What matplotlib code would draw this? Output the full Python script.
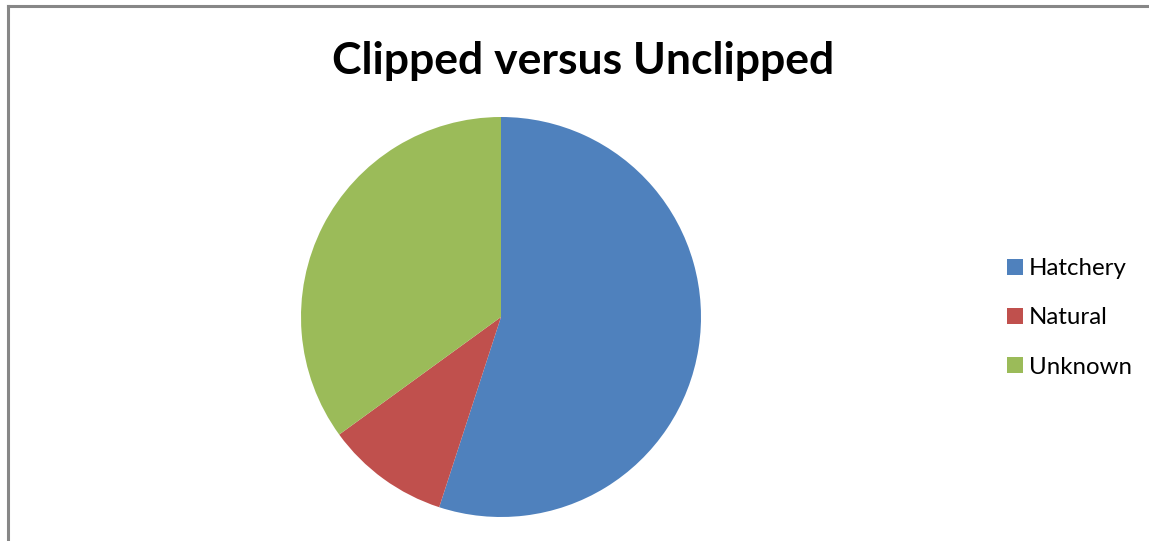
import matplotlib
matplotlib.use("Agg")
import matplotlib.pyplot as plt
from matplotlib.lines import Line2D

categories = ["Hatchery", "Natural", "Unknown"]
shares = [55, 10, 35]
colors = ["#4F81BD", "#C0504D", "#9BBB59"]
title = "Clipped versus Unclipped"

W, H = 1149, 541
fig = plt.figure(figsize=(W / 100, H / 100), dpi=100)
fig.patch.set_facecolor("white")

# chart-area frame: top and left edges (the rest runs off the canvas)
x0, y0 = 7.5 / W, 1 - 5.5 / H
for xs, ys in (([x0, 1.05], [y0, y0]), ([x0, x0], [y0, -0.05])):
    fig.add_artist(Line2D(xs, ys, transform=fig.transFigure, color="#878787",
                          linewidth=2.2, solid_capstyle="projecting"))

cx, cy, r = 501, 317, 200
ax = fig.add_axes([(cx - r) / W, (H - cy - r) / H, 2 * r / W, 2 * r / H])
wedges, _ = ax.pie(shares, colors=colors, startangle=90, counterclock=False,
                   radius=1.0, wedgeprops=dict(linewidth=0))
ax.set_xlim(-1, 1)
ax.set_ylim(-1, 1)
ax.set_aspect("equal")
ax.axis("off")

fig.text(583 / W, 1 - 61 / H, title, ha="center", va="center",
         fontsize=32, fontweight="bold", family="Lato")

leg = fig.legend(wedges, categories, loc="center left",
                 bbox_to_anchor=(1007 / W, 1 - 318 / H), frameon=False,
                 prop=dict(family="Lato", size=17.3), handlelength=0.65,
                 handleheight=0.65, handletextpad=0.25, labelspacing=1.18,
                 borderpad=0, borderaxespad=0)

fig.savefig("out.png", dpi=100)
